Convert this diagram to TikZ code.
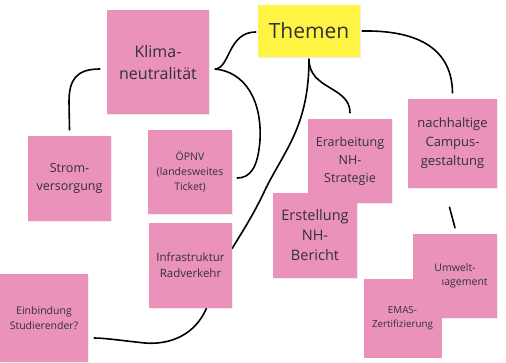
\documentclass[tikz,border=0pt]{standalone}
\usepackage{fontspec}
\setmainfont{Open Sans}
\usepackage{tikz}
\usetikzlibrary{shadows,calc}
\pgfdeclarelayer{background}
\pgfsetlayers{background,main}
\definecolor{pinknote}{RGB}{234,146,186}
\definecolor{yellownote}{RGB}{255,243,68}
\definecolor{notetext}{RGB}{50,50,50}
\newcommand{\fs}[2]{\fontsize{#1}{#2}\selectfont}
\tikzstyle{zettel}=[fill=pinknote, text=notetext, align=center, inner sep=0pt,
minimum width=84pt, minimum height=84pt,
drop shadow={shadow xshift=0.6pt, shadow yshift=-0.8pt, opacity=0.15}]
\tikzstyle{thema}=[zettel, fill=yellownote, minimum width=102pt, minimum height=52pt]
\tikzstyle{line}=[draw, line width=1.6pt, color=black, line cap=round]
\newcommand{\zettel}[3]{node (#1)[zettel,#2]{#3}}

\begin{document}
\begin{tikzpicture}[x=1pt,y=-1pt]
	\useasboundingbox (0,0) rectangle (506,362);

	% Draw diagram elements
	\path (309,31) node (themen)[thema, font=\fs{21}{25}]{Themen};
	\path (158,62) \zettel{klima}{minimum width=102pt, minimum height=104pt, font=\fs{16}{22}}{Klima-\\neutralität};
	\path (69.5,178.5) \zettel{strom}{minimum width=83pt, minimum height=85pt, font=\fs{12.5}{18}}{Strom-\\versorgung};
	\path (190,172) \zettel{oepnv}{font=\fs{10.5}{15}}{ÖPNV\\(landesweites\\Ticket)};
	\path (190.5,265.5) \zettel{infra}{minimum width=83pt, minimum height=85pt, font=\fs{11.5}{16}}{Infrastruktur\\Radverkehr};
	\path (44,318) \zettel{einb}{minimum width=88pt, minimum height=88pt, font=\fs{10.5}{15}}{Einbindung\\Studierender?};
	\path (350,161) \zettel{erarb}{font=\fs{12.5}{18}}{Erarbeitung\\NH-\\Strategie};
	\path (315,235.5) \zettel{erst}{minimum height=85pt, font=\fs{14.5}{20}}{Erstellung\\NH-\\Bericht};
	\path (452.5,143.5) \zettel{campus}{minimum width=89pt, minimum height=89pt, font=\fs{13}{19}}{nachhaltige\\Campus-\\gestaltung};
	\path (455,276) \zettel{umwelt}{font=\fs{10.5}{14.5}}{Umwelt-\\management};
	\path (402.5,318) \zettel{emas}{minimum width=78pt, minimum height=79pt, font=\fs{9.8}{14.5}}{EMAS-\\Zertifizierung};

	% Draw connections
	\begin{pgfonlayer}{background}
	\coordinate (kr) at ($(klima.east)+(6,7)$);
	\path [line] (kr) .. controls (230,68) and (228,32) .. ($(themen.west)+(-2,1)$);
	\path [line] (kr) .. controls (245,72) and (262,100) .. (260,140)
		.. controls (258,168) and (250,178) .. ($(oepnv.east)+(5,6)$);
	\path [line] ($(klima.west)+(-7,7)$) .. controls (76,69) and (69,80) .. (69,102)
		-- ($(strom.north)+(0,-6)$);
	\path [line] ($(themen.south)+(0,2)$) .. controls (309,90) and (350,86) .. ($(erarb.north)+(0,-6)$);
	\path [line] ($(themen.south)+(0,2)$) .. controls (309,125) and (285,150) .. (266,188)
		.. controls (252,218) and (240,235) .. ($(infra.east)+(0,-17)$);
	\path [line] ($(infra.south)+(16,0)$) .. controls (195,335) and (170,345) .. (145,343)
		.. controls (125,341) and (105,338) .. ($(einb.east)+(6,20)$);
	\path [line] ($(themen.east)+(2,0)$) .. controls (420,30) and (452,50) .. ($(campus.north)+(0,-6)$);
	\path [line] ($(campus.south)+(-3,19)$) -- ($(umwelt.north)+(0,-6)$);
	\end{pgfonlayer}
\end{tikzpicture}
\end{document}
